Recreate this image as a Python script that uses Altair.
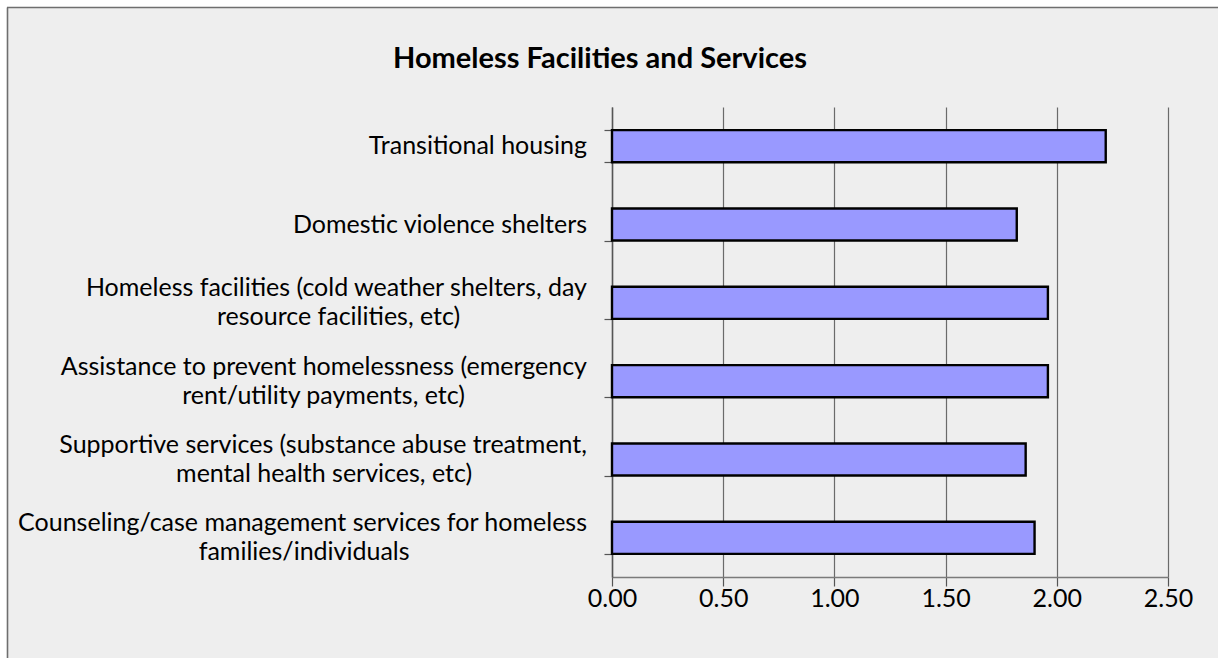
import altair as alt
import pandas as pd

# ---- data ----
label_line1 = [
    "Transitional housing",
    "Domestic violence shelters",
    "Homeless facilities (cold weather shelters, day",
    "Assistance to prevent homelessness (emergency",
    "Supportive services (substance abuse treatment,",
    "Counseling/case management services for homeless",
]
label_line2 = [
    "",
    "",
    "resource facilities, etc)",
    "rent/utility payments, etc)",
    "mental health services, etc)",
    "families/individuals",
]
values = [2.22, 1.82, 1.96, 1.96, 1.86, 1.90]
x_ticks = [0, 0.5, 1.0, 1.5, 2.0, 2.5]
x_domain = [0, 2.5]
title_text = "Homeless Facilities and Services"

FONT = "Lato"
FS = 25
W, H = 556, 470
PAD = {"left": 612, "top": 107, "right": 50, "bottom": 81}
HALF_LINE = 14.5
LABEL_GAP = 25      # px between label block and axis
PX_TO_DATA = (x_domain[1] - x_domain[0]) / W

# rough glyph-width table (em) used only to centre the second label line
_GLYPH_EM = {" ": 0.2, ".": 0.2, ",": 0.2, ":": 0.2, ";": 0.2, "'": 0.2,
             "i": 0.22, "l": 0.22, "j": 0.22, "f": 0.33, "t": 0.33, "r": 0.33,
             "(": 0.3, ")": 0.3, "/": 0.3, "m": 0.82, "w": 0.72, "s": 0.42,
             "c": 0.46, "e": 0.5, "a": 0.47, "g": 0.49, "k": 0.48, "v": 0.5,
             "y": 0.5, "x": 0.48, "z": 0.44, "H": 0.7, "D": 0.7, "C": 0.6,
             "A": 0.6, "S": 0.5, "T": 0.55}


def est_width(s):
    em = sum(_GLYPH_EM.get(ch, 0.62 if ch.isupper() else 0.54) for ch in s)
    return em * FS * 1.05


categories = [a + (" " + b if b else "") for a, b in zip(label_line1, label_line2)]
df = pd.DataFrame({"category": categories, "value": values,
                   "line1": label_line1, "line2": label_line2,
                   "w1": [est_width(s) for s in label_line1]})

x_scale = alt.Scale(domain=x_domain, nice=False, zero=True)
y_scale = alt.Scale(paddingInner=0.59, paddingOuter=0.295)

bars = alt.Chart(df).mark_bar(
    fill="#9999ff", stroke="#000000", strokeWidth=2.4
).encode(
    x=alt.X(
        "value:Q",
        scale=x_scale,
        axis=alt.Axis(
            values=x_ticks, format=".2f", title=None, grid=True,
            gridColor="#6a6a6a", gridWidth=1.2, gridOpacity=1,
            domainColor="#7a7a7a", domainWidth=1.6,
            tickColor="#555555", tickSize=9, tickWidth=1.2,
            labelFont=FONT, labelFontSize=FS, labelColor="#000000",
            labelPadding=0, labelFlush=False,
        ),
    ),
    y=alt.Y(
        "category:N", sort=categories, scale=y_scale,
        axis=alt.Axis(
            title=None, grid=False, tickBand="extent", labels=False,
            domainColor="#555555", domainWidth=1.5,
            tickColor="#555555", tickSize=8, tickWidth=1.2,
        ),
    ),
)


def label_layer(filter_expr, text_field, dy, align, x_expr):
    return alt.Chart(df).transform_filter(filter_expr).transform_calculate(
        xpos=x_expr
    ).mark_text(
        align=align, baseline="middle", dy=dy,
        font=FONT, fontSize=FS, color="#000000",
    ).encode(
        x=alt.X("xpos:Q", scale=x_scale),
        y=alt.Y("category:N", sort=categories, scale=y_scale),
        text=alt.Text(f"{text_field}:N"),
    )


right_x = f"{-LABEL_GAP * PX_TO_DATA}"
center_x = f"(-{LABEL_GAP} - datum.w1 / 2) * {PX_TO_DATA}"

lbl_single = label_layer("datum.line2 == ''", "line1", 0, "right", right_x)
lbl_top = label_layer("datum.line2 != ''", "line1", -HALF_LINE, "right", right_x)
lbl_bottom = label_layer("datum.line2 != ''", "line2", HALF_LINE, "center", center_x)

one = pd.DataFrame({"a": [0]})
title_mark = alt.Chart(one).mark_text(
    text=title_text, font=FONT, fontSize=29, fontWeight="bold",
    color="#000000", align="center", baseline="middle",
).encode(x=alt.value(-12), y=alt.value(-48))

edge_white_v = alt.Chart(one).mark_rule(color="#ffffff", strokeWidth=7).encode(
    x=alt.value(-608.5), y=alt.value(-107), y2=alt.value(H + PAD["bottom"])
)
edge_white_h = alt.Chart(one).mark_rule(color="#ffffff", strokeWidth=7).encode(
    x=alt.value(-612), x2=alt.value(W + PAD["right"]), y=alt.value(-103.5)
)
border_v = alt.Chart(one).mark_rule(color="#6e6e6e", strokeWidth=1.6).encode(
    x=alt.value(-604.5), y=alt.value(-99.5), y2=alt.value(H + PAD["bottom"])
)
border_h = alt.Chart(one).mark_rule(color="#6e6e6e", strokeWidth=1.6).encode(
    x=alt.value(-605), x2=alt.value(W + PAD["right"]), y=alt.value(-99.5)
)

chart = alt.layer(
    bars, lbl_single, lbl_top, lbl_bottom, title_mark,
    edge_white_v, edge_white_h, border_v, border_h
).properties(
    width=W, height=H,
    padding=PAD,
    autosize=alt.AutoSizeParams(type="none"),
    background="#eeeeee",
).configure_view(stroke=None)

chart.save("out.html", embed_options={"renderer": "svg", "actions": False})
